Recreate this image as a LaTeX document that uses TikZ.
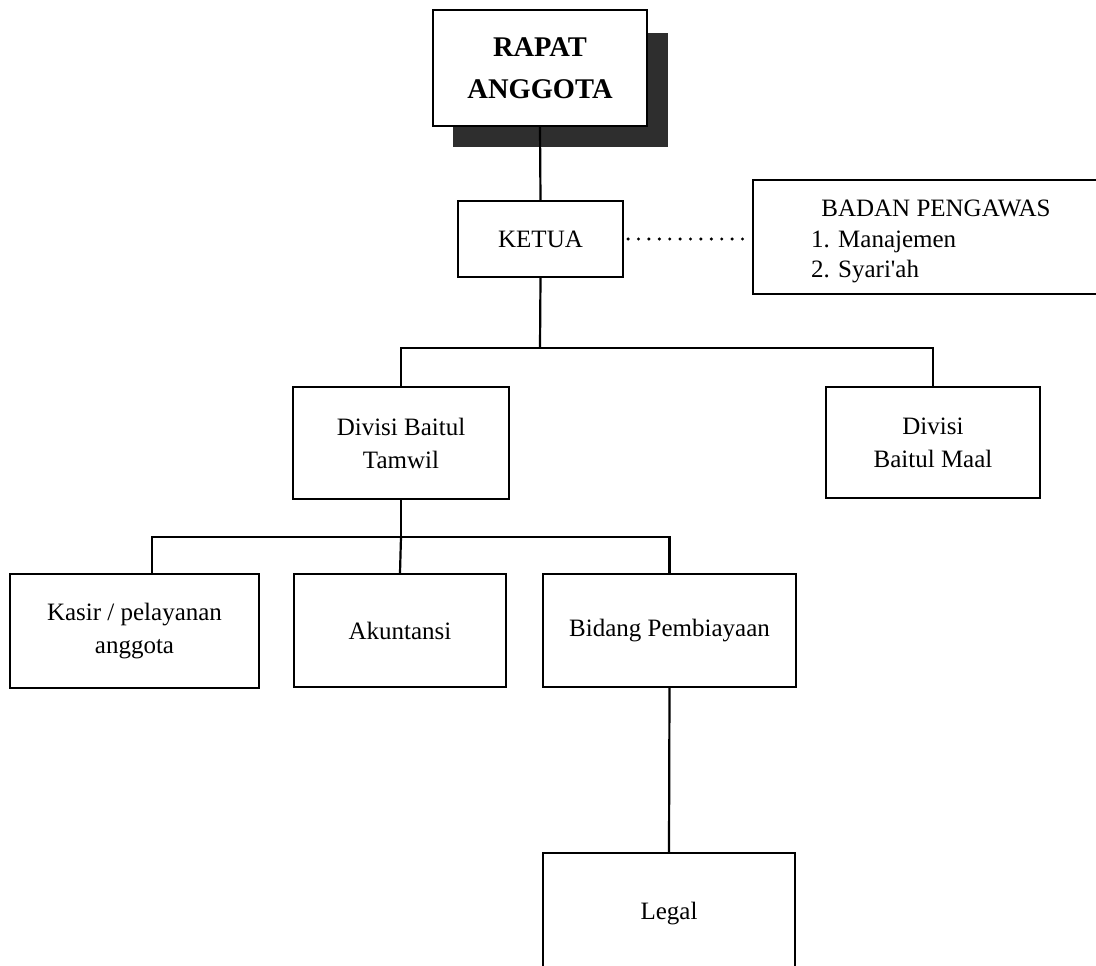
\documentclass[tikz,border=0pt]{standalone}
\usepackage{fontspec}
\setmainfont{Liberation Serif}
\begin{document}
\begin{tikzpicture}[x=1pt,y=-1pt,line width=2.2pt,
  box/.style={draw, rectangle, fill=white, align=center, inner sep=0pt,
    font=\fontsize{25}{33}\selectfont},
  txt/.style={inner sep=0pt, font=\fontsize{25}{30}\selectfont},
  link/.style={draw, line width=2.2pt},
  dotline/.style={line width=3.4pt, dash pattern=on 0pt off 10.4pt, line cap=round}]
\clip (0,0) rectangle (1096,966);
\fill[white] (0,0) rectangle (1096,966);
% shadow of top box
\fill[black!82] (453,33) rectangle (668,147);
\node[box, minimum width=214pt, minimum height=116pt,
  font=\bfseries\fontsize{28.5}{42}\selectfont] (rapat) at (540,68) {RAPAT\\ANGGOTA};
\node[box, minimum width=165pt, minimum height=76pt] (ketua) at (540.5,239) {KETUA};
\node[box, minimum width=367pt, minimum height=114pt] (bp) at (936.5,237) {};
\node[txt, anchor=base] (bpt) at (936,216) {BADAN PENGAWAS};
\node[txt, anchor=base west] (bp1) at (810,247) {1. Manajemen};
\node[txt, anchor=base west] (bp2) at (810,277) {2. Syari\textquotesingle ah};
\node[box, minimum width=216pt, minimum height=112pt] (tamwil) at (401,443) {Divisi Baitul\\Tamwil};
\node[box, minimum width=214pt, minimum height=111pt] (maal) at (933,442.5) {Divisi\\Baitul Maal};
\node[box, minimum width=249pt, minimum height=114pt] (kasir) at (134.5,631) {Kasir / pelayanan\\anggota};
\node[box, minimum width=212pt, minimum height=113pt] (akun) at (400,630.5) {Akuntansi};
\node[box, minimum width=253pt, minimum height=113pt] (bidang) at (669.5,630.5) {Bidang Pembiayaan};
\node[box, minimum width=252pt, minimum height=122pt] (legal) at (669,914) {Legal};
\coordinate (j1) at (540,348);
\coordinate (j2) at (401,537);
% connectors
\draw[link] (rapat.south) -- (ketua.north);
\draw[dotline] ([xshift=4pt]ketua.east) -- ([xshift=-4pt]ketua.east -| bp.west);
\draw[link] (ketua.south) -- (j1);
\draw[link] (tamwil.north) -- (tamwil.north |- j1) -- (maal.north |- j1) -- (maal.north);
\draw[link] (tamwil.south) -- (j2);
\draw[link] ([xshift=17.5pt]kasir.north) |- (j2) -| (bidang.north);
\draw[link] (j2) -- (akun.north);
\draw[link] (bidang.south) -- (legal.north);
\end{tikzpicture}
\end{document}
